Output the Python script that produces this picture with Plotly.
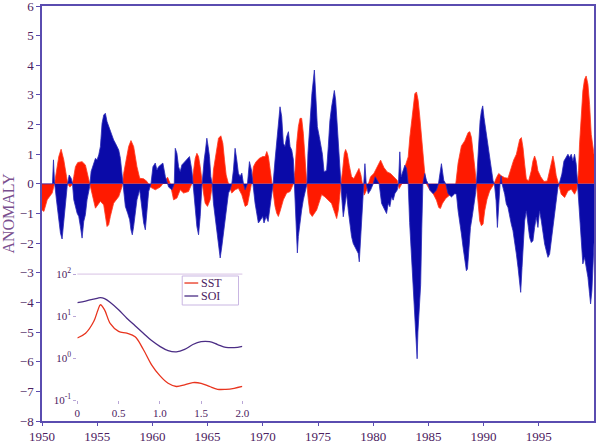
"""SST / SOI anomaly record 1950-2000 with inset power spectra."""
import plotly.graph_objects as go

# (year, anomaly)
SST_POINTS = [
    (1950.0, -0.88), (1950.17, -0.93), (1950.47, -0.54), (1950.92, -0.31), (1951.13, 0),
    (1951.37, 0.58), (1951.52, 0.92), (1951.73, 1.17), (1951.97, 0.81), (1952.22, 0.25),
    (1952.34, 0), (1952.52, -0.11), (1952.73, -0.03), (1952.88, 0.25), (1953.03, 0.58),
    (1953.24, 0.72), (1953.63, 0.75), (1953.93, 0.64), (1954.14, 0.3), (1954.32, 0),
    (1954.54, -0.43), (1954.84, -0.82), (1955.29, -0.59), (1955.59, -0.71), (1955.89, -1.44),
    (1956.04, -1.38), (1956.19, -1.10), (1956.49, -0.65), (1956.95, -0.43), (1957.25, -0.09),
    (1957.40, 0.36), (1957.64, 0.92), (1957.85, 1.26), (1958.06, 1.46), (1958.30, 1.26),
    (1958.60, 0.58), (1958.85, 0.19), (1959.21, 0.17), (1959.51, 0.08), (1959.81, -0.11),
    (1960.26, -0.2), (1960.71, -0.11), (1961.17, 0.13), (1961.38, 0.22), (1961.62, 0),
    (1961.92, -0.54), (1962.22, -0.48), (1962.52, -0.2), (1962.82, -0.31), (1963.27, -0.26),
    (1963.57, 0), (1963.73, 0.47), (1963.88, 0.86), (1964.03, 1.03), (1964.18, 0.92),
    (1964.33, 0.58), (1964.48, 0.08), (1964.63, -0.31), (1964.78, -0.65), (1964.99, -0.76),
    (1965.23, -0.54), (1965.44, 0), (1965.53, 0.47), (1965.68, 0.81), (1965.84, 1.26),
    (1965.99, 1.54), (1966.20, 1.62), (1966.38, 1.37), (1966.53, 0.81), (1966.68, 0.3),
    (1966.89, 0), (1967.19, -0.31), (1967.49, -0.2), (1967.79, -0.15), (1968.10, -0.37),
    (1968.40, -0.76), (1968.61, -0.71), (1968.79, -0.31), (1968.97, 0), (1969.15, 0.58),
    (1969.39, 0.75), (1969.69, 0.86), (1969.99, 0.92), (1970.21, 0.92), (1970.36, 1.09),
    (1970.51, 0.92), (1970.66, 0.47), (1970.84, 0), (1970.96, -0.31), (1971.11, -0.76),
    (1971.26, -0.99), (1971.41, -1.10), (1971.56, -0.93), (1971.86, -0.54), (1972.16, -0.31),
    (1972.47, -0.26), (1972.77, 0), (1972.92, 0.47), (1973.07, 1.37), (1973.22, 1.93),
    (1973.37, 2.21), (1973.52, 2.21), (1973.67, 1.71), (1973.82, 0.81), (1973.97, 0.08),
    (1974.12, -0.54), (1974.27, -0.99), (1974.48, -1.10), (1974.88, -0.88), (1975.18, -0.54),
    (1975.33, -0.36), (1975.63, -0.44), (1975.93, -0.55), (1976.23, -0.66), (1976.54, -1.0),
    (1976.69, -1.17), (1976.84, -0.89), (1976.99, -0.21), (1977.08, 0), (1977.23, 0.46),
    (1977.38, 1.02), (1977.50, 1.16), (1977.65, 1.02), (1977.83, 0.63), (1978.04, 0.24),
    (1978.25, 0.18), (1978.50, 0.4), (1978.71, 0.52), (1978.89, 0.29), (1979.04, 0),
    (1979.19, -0.38), (1979.40, -0.21), (1979.58, 0), (1979.76, 0.24), (1980.06, 0.35),
    (1980.36, 0.57), (1980.67, 0.8), (1980.97, 0.55), (1981.27, 0.4), (1981.57, 0.35),
    (1981.87, 0.24), (1982.17, 0.12), (1982.35, -0.16), (1982.59, 0), (1982.87, 0.57),
    (1983.17, 0.91), (1983.32, 1.58), (1983.47, 2.14), (1983.62, 2.70), (1983.77, 3.04),
    (1983.92, 3.1), (1984.07, 2.82), (1984.22, 2.26), (1984.37, 1.58), (1984.52, 0.8),
    (1984.67, 0.35), (1984.82, 0), (1985.13, -0.21), (1985.43, -0.33), (1985.73, -0.55),
    (1985.94, -0.8), (1986.09, -0.83), (1986.27, -0.66), (1986.57, -0.49), (1986.93, -0.38),
    (1987.24, -0.27), (1987.48, 0), (1987.69, 0.7), (1987.99, 1.28), (1988.29, 1.45),
    (1988.60, 1.73), (1988.75, 1.76), (1988.90, 1.56), (1989.05, 1.11), (1989.20, 0.55),
    (1989.35, 0), (1989.50, -0.57), (1989.65, -1.25), (1989.80, -1.41), (1989.95, -1.36),
    (1990.10, -0.91), (1990.31, -0.52), (1990.55, -0.24), (1990.77, -0.12), (1990.95, 0),
    (1991.16, 0.21), (1991.37, 0.35), (1991.61, 0.27), (1991.91, 0.21), (1992.21, 0.19),
    (1992.51, 0.55), (1992.72, 0.8), (1992.97, 1.0), (1993.12, 1.28), (1993.27, 1.5),
    (1993.42, 1.56), (1993.57, 1.22), (1993.72, 0.66), (1993.87, 0.16), (1994.08, 0.1),
    (1994.32, 0.44), (1994.47, 0.77), (1994.62, 0.94), (1994.77, 0.77), (1994.92, 0.44),
    (1995.17, 0.24), (1995.47, 0.08), (1995.77, 0.1), (1995.98, 0.44), (1996.13, 0.66),
    (1996.28, 0.94), (1996.43, 0.66), (1996.58, 0.27), (1996.79, 0), (1997.03, -0.35),
    (1997.34, -0.46), (1997.64, -0.24), (1997.94, -0.18), (1998.24, -0.35), (1998.45, -0.18),
    (1998.60, 0.44), (1998.69, 1.34), (1998.84, 2.35), (1998.99, 3.13), (1999.14, 3.52),
    (1999.29, 3.64), (1999.45, 3.36), (1999.60, 2.68), (1999.75, 1.67), (1999.90, 1.2),
    (2000.0, 1.0),
]

SOI_POINTS = [
    (1950.0, 0), (1950.95, 0), (1951.04, 0.81), (1951.13, 0.08), (1951.31, -0.54),
    (1951.52, -1.21), (1951.67, -1.66), (1951.82, -1.86), (1951.97, -1.32), (1952.12, -0.76),
    (1952.28, -0.09), (1952.46, 0.3), (1952.64, 0.19), (1952.76, 0), (1952.88, -0.54),
    (1953.18, -0.99), (1953.33, -1.1), (1953.48, -1.44), (1953.63, -1.83), (1953.78, -1.27),
    (1953.93, -1.04), (1954.08, -0.54), (1954.32, -0.09), (1954.45, 0.42), (1954.69, 0.70),
    (1954.84, 0.86), (1954.99, 0.81), (1955.14, 0.98), (1955.29, 1.26), (1955.44, 2.04),
    (1955.59, 2.32), (1955.74, 2.38), (1955.89, 2.10), (1956.04, 1.93), (1956.19, 1.76),
    (1956.34, 1.59), (1956.49, 1.48), (1956.65, 1.37), (1956.80, 1.26), (1956.95, 1.14),
    (1957.10, 0.86), (1957.25, 0.3), (1957.34, 0), (1957.40, -0.43), (1957.55, -0.76),
    (1957.76, -0.99), (1957.94, -1.21), (1958.06, -1.55), (1958.18, -1.72), (1958.30, -1.44),
    (1958.45, -0.88), (1958.60, -0.54), (1958.85, -0.2), (1959.06, -0.88), (1959.21, -1.32),
    (1959.36, -1.55), (1959.51, -0.88), (1959.66, -0.26), (1959.87, 0), (1960.05, 0.58),
    (1960.26, 0.70), (1960.41, 0.47), (1960.56, 0.58), (1960.77, 0.64), (1960.95, 0.70),
    (1961.17, 0.25), (1961.47, -0.11), (1961.77, -0.2), (1961.98, 0), (1962.07, 1.20),
    (1962.22, 1.03), (1962.37, 0.58), (1962.52, 0.42), (1962.67, 0.64), (1962.82, 0.70),
    (1963.12, 0.81), (1963.36, 0.92), (1963.57, 0.47), (1963.67, 0), (1963.79, -0.54),
    (1963.91, -0.99), (1964.03, -1.44), (1964.18, -1.72), (1964.33, -1.10), (1964.48, -0.09),
    (1964.57, 0.47), (1964.69, 0.81), (1964.81, 1.14), (1964.93, 1.54), (1965.05, 1.26),
    (1965.17, 0.92), (1965.29, 0.25), (1965.41, 0), (1965.53, -0.65), (1965.68, -1.10),
    (1965.84, -1.44), (1965.99, -1.89), (1966.14, -2.50), (1966.29, -2.11), (1966.44, -1.66),
    (1966.59, -1.10), (1966.74, -0.76), (1966.89, -0.31), (1967.04, -0.2), (1967.19, 0),
    (1967.34, 0.47), (1967.49, 1.20), (1967.64, 0.81), (1967.79, 0.36), (1967.94, 0.25),
    (1968.10, 0.36), (1968.25, 0), (1968.40, -0.2), (1968.61, 0), (1968.79, 0.75),
    (1968.97, 0.47), (1969.09, 0), (1969.30, -0.65), (1969.45, -0.99), (1969.60, -1.32),
    (1969.81, -1.21), (1969.99, -1.10), (1970.11, -1.32), (1970.30, -1.10), (1970.48, -1.27),
    (1970.66, -0.76), (1970.81, -0.31), (1970.93, 0), (1971.11, 0.81), (1971.26, 1.48),
    (1971.41, 1.93), (1971.56, 2.60), (1971.71, 2.27), (1971.86, 1.37), (1972.01, 1.26),
    (1972.16, 1.59), (1972.32, 1.76), (1972.47, 1.26), (1972.62, 1.14), (1972.77, 0.81),
    (1972.86, 0), (1972.95, -0.88), (1973.07, -1.66), (1973.13, -2.33), (1973.22, -1.77),
    (1973.37, -1.21), (1973.52, -0.88), (1973.67, -0.54), (1973.91, -0.09), (1974.00, 0),
    (1974.09, 1.03), (1974.21, 1.82), (1974.33, 2.49), (1974.45, 3.05), (1974.58, 3.50),
    (1974.67, 3.84), (1974.82, 2.83), (1974.94, 1.93), (1975.12, 1.59), (1975.25, 1.26),
    (1975.40, 1.0), (1975.55, 0.4), (1975.78, 0.46), (1975.93, 1.25), (1976.08, 2.14),
    (1976.23, 2.59), (1976.39, 3.04), (1976.48, 3.15), (1976.60, 2.82), (1976.69, 2.26),
    (1976.84, 1.25), (1976.99, 0.46), (1977.08, 0), (1977.17, -0.55), (1977.29, -1.11),
    (1977.44, -0.77), (1977.59, -0.33), (1977.74, -0.89), (1977.89, -1.45), (1978.04, -1.78),
    (1978.19, -2.01), (1978.34, -2.12), (1978.50, -2.23), (1978.65, -2.35), (1978.74, -2.63),
    (1978.86, -1.90), (1979.01, -0.77), (1979.13, 0), (1979.25, 0.68), (1979.37, 0),
    (1979.55, -0.33), (1979.76, -0.21), (1980.00, 0), (1980.18, 0.24), (1980.36, 0.12),
    (1980.54, 0), (1980.76, -0.66), (1980.91, -0.77), (1981.06, -0.89), (1981.21, -1.0),
    (1981.36, -0.66), (1981.51, -0.77), (1981.66, -0.44), (1981.81, -0.55), (1981.96, -0.33),
    (1982.17, -0.21), (1982.29, 0), (1982.41, 1.08), (1982.53, 0.24), (1982.71, 0.46),
    (1982.87, 0.63), (1983.02, 0.52), (1983.17, 0), (1983.30, -1.3), (1983.45, -2.4),
    (1983.60, -3.5), (1983.75, -4.6), (1983.90, -5.4), (1983.98, -5.9), (1984.05, -5.0),
    (1984.15, -4.3), (1984.30, -3.4), (1984.40, -1.5), (1984.50, 0), (1984.67, 0.35),
    (1984.82, 0.12), (1984.98, 0), (1985.13, -0.21), (1985.43, -0.33), (1985.73, -0.21),
    (1985.91, 0), (1986.18, 0.68), (1986.39, 0.12), (1986.57, 0), (1986.78, -0.33),
    (1987.09, -0.44), (1987.39, -0.33), (1987.54, -0.35), (1987.69, -0.91), (1987.84, -1.25),
    (1987.99, -1.69), (1988.14, -2.14), (1988.29, -2.59), (1988.44, -2.93), (1988.54, -2.87),
    (1988.66, -2.14), (1988.81, -1.47), (1988.96, -1.13), (1989.11, -0.8), (1989.26, -0.35),
    (1989.35, 0), (1989.44, 0.66), (1989.56, 1.45), (1989.68, 2.12), (1989.80, 2.46),
    (1989.92, 2.63), (1990.04, 2.23), (1990.16, 1.90), (1990.28, 1.67), (1990.40, 1.34),
    (1990.55, 0.89), (1990.71, 0.44), (1990.86, 0.1), (1990.98, 0), (1991.13, -0.57),
    (1991.25, -1.47), (1991.37, -0.57), (1991.49, 0), (1991.58, 0.27), (1991.67, 0),
    (1991.91, -0.35), (1992.06, -0.68), (1992.21, -0.8), (1992.36, -1.13), (1992.51, -1.36),
    (1992.66, -1.58), (1992.81, -1.92), (1992.97, -2.37), (1993.12, -2.82), (1993.27, -3.27),
    (1993.36, -3.66), (1993.48, -2.82), (1993.60, -1.92), (1993.72, -1.25), (1993.87, -0.91),
    (1994.02, -1.47), (1994.17, -1.81), (1994.32, -1.98), (1994.47, -1.92), (1994.62, -1.47),
    (1994.77, -1.13), (1994.92, -1.47), (1995.07, -0.91), (1995.23, -1.25), (1995.38, -1.69),
    (1995.53, -2.03), (1995.68, -2.26), (1995.83, -2.48), (1995.98, -2.37), (1996.13, -1.92),
    (1996.28, -1.47), (1996.43, -0.91), (1996.58, -0.57), (1996.73, -0.12), (1996.85, 0),
    (1997.09, 0.33), (1997.28, 0.77), (1997.49, 0.89), (1997.64, 1.0), (1997.79, 0.89),
    (1997.94, 1.0), (1998.09, 0.77), (1998.24, 1.0), (1998.39, 0.66), (1998.51, 0),
    (1998.69, -0.91), (1998.84, -1.92), (1998.99, -2.70), (1999.14, -2.48), (1999.29, -2.82),
    (1999.45, -3.15), (1999.60, -3.71), (1999.69, -4.05), (1999.81, -3.60), (1999.93, -2.5),
    (2000.0, -2.0),
]

# inset: power spectra (log scale)
FREQ = [0, 0.1, 0.2, 0.25, 0.28, 0.33, 0.4, 0.5, 0.6, 0.7, 0.8, 0.9, 1.0,
        1.1, 1.2, 1.3, 1.4, 1.5, 1.6, 1.7, 1.8, 1.9, 2.0]
SST_SPEC = [3.0, 3.9, 7.5, 14, 18.6, 14, 6.6, 4.3, 3.9, 3.2, 1.6, 0.69, 0.38,
            0.25, 0.21, 0.23, 0.26, 0.25, 0.21, 0.18, 0.18, 0.19, 0.21]
SOI_SPEC = [21, 22.8, 25.3, 26.8, 27.5, 26, 21, 14.1, 8.9, 5.9, 3.9, 2.6, 1.9,
            1.5, 1.4, 1.6, 2.1, 2.45, 2.45, 2.1, 1.8, 1.77, 1.9]

YEAR_TICKS = [1950, 1955, 1960, 1965, 1970, 1975, 1980, 1985, 1990, 1995]
INSET_XTICKS = [0, 0.5, 1.0, 1.5, 2.0]
INSET_XLABELS = ['0', '0.5', '1.0', '1.5', '2.0']
INSET_YTICKS = [0.1, 1, 10, 100]
INSET_YLABELS = ['10<sup>-1</sup>', '10<sup>0</sup>', '10<sup>1</sup>', '10<sup>2</sup>']

RED = '#ff1a00'
BLUE = '#0a0aa8'
FRAME = '#5a4cb0'
TEXT = '#4b2060'
FONT = 'Liberation Serif, Times New Roman, serif'
SST_LINE = '#e8341e'
SOI_LINE = '#4b2d85'

fig = go.Figure()

soi_x, soi_y = zip(*SOI_POINTS)
sst_x, sst_y = zip(*SST_POINTS)
# red first, blue drawn over it (blue shows through where both share a sign)
fig.add_trace(go.Scatter(x=sst_x, y=sst_y, mode='lines', fill='tozeroy',
                         line=dict(color='#ff3a20', width=0.8), fillcolor=RED,
                         showlegend=False, hoverinfo='skip'))
fig.add_trace(go.Scatter(x=soi_x, y=soi_y, mode='lines', fill='tozeroy',
                         line=dict(color='#2a2ab8', width=0.8), fillcolor=BLUE,
                         showlegend=False, hoverinfo='skip'))

# inset spectra
fig.add_trace(go.Scatter(x=FREQ, y=SST_SPEC, mode='lines', name='SST',
                         line=dict(color=SST_LINE, width=1.3, shape='spline'),
                         xaxis='x2', yaxis='y2', showlegend=False))
fig.add_trace(go.Scatter(x=FREQ, y=SOI_SPEC, mode='lines', name='SOI',
                         line=dict(color=SOI_LINE, width=1.3, shape='spline'),
                         xaxis='x2', yaxis='y2', showlegend=False))

# compact legend box for the inset, as in the original
LX0, LX1, LY0, LY1 = 0.254, 0.356, 0.2795, 0.3494
legend_shapes = [
    dict(type='rect', xref='paper', yref='paper', x0=LX0, x1=LX1, y0=LY0, y1=LY1,
         line=dict(color='#c9b6e2', width=1), fillcolor='white'),
    dict(type='line', xref='paper', yref='paper', x0=0.258, x1=0.283,
         y0=0.3325, y1=0.3325, line=dict(color=SST_LINE, width=1.3)),
    dict(type='line', xref='paper', yref='paper', x0=0.258, x1=0.283,
         y0=0.3012, y1=0.3012, line=dict(color=SOI_LINE, width=1.3)),
]
legend_notes = [
    dict(text='SST', xref='paper', yref='paper', x=0.285, y=0.3325,
         xanchor='left', yanchor='middle', showarrow=False,
         font=dict(size=12, color=TEXT)),
    dict(text='SOI', xref='paper', yref='paper', x=0.285, y=0.3012,
         xanchor='left', yanchor='middle', showarrow=False,
         font=dict(size=12, color=TEXT)),
]

fig.update_layout(
    width=600, height=446,
    margin=dict(l=42, r=6, t=6, b=25),
    paper_bgcolor='white', plot_bgcolor='white',
    font=dict(family=FONT, size=13, color=TEXT),
    xaxis=dict(range=[1950, 2000], tickvals=YEAR_TICKS, showgrid=False, zeroline=False,
               showline=True, mirror=True, linecolor=FRAME, linewidth=1.5,
               ticks='outside', ticklen=3, tickcolor=FRAME, automargin=False,
               ticklabeloverflow='allow'),
    yaxis=dict(range=[-8, 6], dtick=1, showgrid=False, zeroline=False,
               showline=True, mirror=True, linecolor=FRAME, linewidth=1.5,
               ticks='outside', ticklen=4, tickcolor=FRAME, automargin=False,
               ticklabeloverflow='allow',
               title=dict(text='ANOMALY', font=dict(size=16, color='#7a4f8f'), standoff=6)),
    xaxis2=dict(domain=[0.064, 0.363], anchor='y2', range=[0, 2],
                tickvals=INSET_XTICKS, ticktext=INSET_XLABELS,
                showgrid=False, zeroline=False, showline=False,
                ticks='outside', ticklen=3, tickcolor='#b9a6d6',
                tickfont=dict(size=11), automargin=False),
    yaxis2=dict(domain=[0.0506, 0.354], anchor='x2', type='log', range=[-1, 2],
                tickvals=INSET_YTICKS, ticktext=INSET_YLABELS,
                showgrid=False, zeroline=False, showline=False,
                ticks='outside', ticklen=3, tickcolor='#b9a6d6',
                tickfont=dict(size=11), automargin=False),
    shapes=[dict(type='line', xref='paper', yref='paper', x0=0.064, x1=0.363,
                 y0=0.354, y1=0.354, line=dict(color='#d7c2e4', width=1))] + legend_shapes,
    annotations=legend_notes,
)

# the page's default body margin would shift the 600x446 figure off the window
fig.write_html('out.html', config={'displayModeBar': False},
               post_script="document.body.style.margin='0px';")
